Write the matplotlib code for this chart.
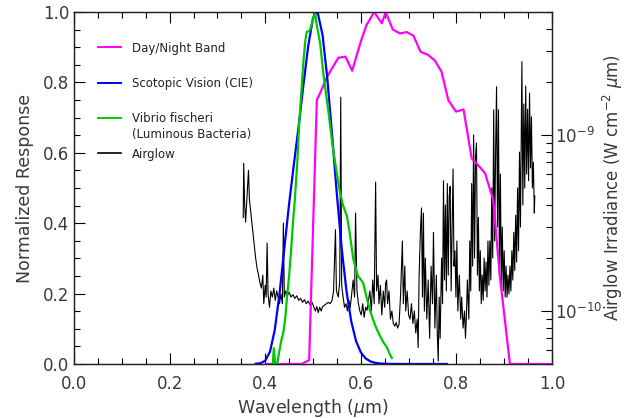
import matplotlib
matplotlib.use("Agg")
import matplotlib.pyplot as plt
from matplotlib.ticker import MultipleLocator, LogLocator, FormatStrFormatter, NullFormatter

# ---- Day/Night Band relative response ----
dnb_wl = [0.403, 0.476, 0.492, 0.508, 0.515, 0.529, 0.553, 0.568, 0.582, 0.600,
          0.612, 0.628, 0.644, 0.652, 0.667, 0.682, 0.696, 0.710, 0.725, 0.741,
          0.755, 0.769, 0.783, 0.799, 0.815, 0.832, 0.842, 0.860, 0.877, 0.891,
          0.912, 1.000]
dnb_resp = [0.0, 0.0, 0.011, 0.75, 0.77, 0.815, 0.87, 0.873, 0.833, 0.916,
            0.963, 1.0, 0.968, 1.0, 0.95, 0.939, 0.943, 0.933, 0.887, 0.878,
            0.862, 0.83, 0.75, 0.717, 0.723, 0.584, 0.57, 0.542, 0.466, 0.248,
            0.0, 0.0]

# ---- CIE scotopic luminosity ----
scot_wl = [0.38, 0.39, 0.40, 0.41, 0.42, 0.43, 0.44, 0.45, 0.46, 0.47,
           0.48, 0.49, 0.50, 0.507, 0.51, 0.52, 0.53, 0.54, 0.55, 0.56,
           0.57, 0.58, 0.59, 0.60, 0.61, 0.62, 0.63, 0.64, 0.65, 0.66,
           0.67, 0.68, 0.69, 0.70, 0.72, 0.74, 0.76, 0.78]
scot_resp = [0.000589, 0.002209, 0.00929, 0.03484, 0.0966, 0.1998, 0.3281, 0.455, 0.567, 0.676,
             0.793, 0.904, 0.982, 1.0, 0.997, 0.935, 0.811, 0.650, 0.481, 0.3288,
             0.2076, 0.1212, 0.0655, 0.03315, 0.01593, 0.00737, 0.003335, 0.001497, 0.000677, 0.000313,
             0.000148, 0.0000715, 0.0000353, 0.0000178, 0.0, 0.0, 0.0, 0.0]

# ---- Vibrio fischeri emission ----
vib_wl = [0.416, 0.418, 0.421, 0.425, 0.430, 0.434, 0.438, 0.442, 0.445, 0.450,
          0.454, 0.458, 0.462, 0.467, 0.471, 0.476, 0.480, 0.484, 0.487, 0.491,
          0.494, 0.498, 0.502, 0.504, 0.507, 0.511, 0.515, 0.522, 0.532, 0.541,
          0.550, 0.556, 0.563, 0.571, 0.577, 0.584, 0.594, 0.600, 0.605, 0.612,
          0.619, 0.626, 0.633, 0.640, 0.647, 0.654, 0.660, 0.665]
vib_resp = [0.0, 0.045, 0.0, 0.0, 0.04, 0.068, 0.09, 0.13, 0.18, 0.25,
            0.32, 0.40, 0.466, 0.57, 0.68, 0.78, 0.86, 0.92, 0.944, 0.945,
            0.95, 0.97, 0.99, 1.0, 0.97, 0.94, 0.91, 0.82, 0.72, 0.62,
            0.54, 0.49, 0.45, 0.42, 0.37, 0.30, 0.25, 0.24, 0.23, 0.19,
            0.153, 0.125, 0.10, 0.08, 0.062, 0.049, 0.03, 0.017]

# ---- Airglow irradiance (units of 1e-10 W cm^-2 um^-1) ----
air_wl = [0.354, 0.355, 0.357, 0.359, 0.362, 0.365, 0.367, 0.370, 0.373, 0.377,
          0.380, 0.383, 0.386, 0.389, 0.392, 0.395, 0.397, 0.400, 0.402, 0.404,
          0.406, 0.409, 0.412, 0.415, 0.418, 0.421, 0.424, 0.427, 0.430, 0.433,
          0.436, 0.438, 0.440, 0.443, 0.446, 0.450, 0.454, 0.458, 0.462, 0.466,
          0.470, 0.474, 0.478, 0.482, 0.486, 0.490, 0.494, 0.498, 0.502, 0.505,
          0.508, 0.511, 0.514, 0.517, 0.520, 0.524, 0.528, 0.532, 0.536, 0.540,
          0.543, 0.547, 0.549, 0.553, 0.556, 0.558, 0.560, 0.563, 0.566, 0.569,
          0.572, 0.575, 0.578, 0.581, 0.584, 0.587, 0.589, 0.592, 0.595, 0.598,
          0.601, 0.604, 0.607, 0.610, 0.613, 0.616, 0.619, 0.622, 0.625, 0.628,
          0.631, 0.633, 0.636, 0.638, 0.641, 0.644, 0.647, 0.650, 0.652, 0.654,
          0.656, 0.659, 0.662, 0.665, 0.668, 0.671, 0.674, 0.677, 0.680, 0.683,
          0.687, 0.689, 0.692, 0.694, 0.697, 0.700, 0.703, 0.706, 0.709, 0.712,
          0.715, 0.718, 0.720, 0.722, 0.725, 0.727, 0.729, 0.731, 0.733, 0.735,
          0.738, 0.741, 0.744, 0.747, 0.750, 0.752, 0.755, 0.758, 0.760, 0.762,
          0.764, 0.766, 0.769, 0.771, 0.773, 0.775, 0.777, 0.779, 0.781, 0.783,
          0.785, 0.787, 0.789, 0.791, 0.793, 0.795, 0.797, 0.799, 0.801, 0.803,
          0.806, 0.809, 0.811, 0.814, 0.817, 0.819, 0.821, 0.823, 0.826, 0.828,
          0.830, 0.832, 0.834, 0.836, 0.838, 0.840, 0.842, 0.844, 0.846, 0.848,
          0.850, 0.852, 0.854, 0.856, 0.858, 0.860, 0.862, 0.864, 0.866, 0.868,
          0.870, 0.872, 0.874, 0.876, 0.878, 0.880, 0.882, 0.884, 0.886, 0.888,
          0.890, 0.892, 0.894, 0.896, 0.898, 0.900, 0.902, 0.904, 0.906, 0.908,
          0.910, 0.912, 0.914, 0.916, 0.918, 0.920, 0.922, 0.924, 0.926, 0.928,
          0.930, 0.932, 0.934, 0.936, 0.937, 0.939, 0.941, 0.943, 0.945, 0.947,
          0.949, 0.951, 0.953, 0.955, 0.957, 0.959, 0.961, 0.963, 0.964]
air_irr = [3.4, 6.9, 4.0, 3.2, 4.5, 6.3, 4.3, 3.6, 3.0, 2.4,
           2.0, 1.75, 1.6, 1.45, 1.35, 1.6, 1.1, 1.4, 1.2, 2.43,
           1.25, 1.05, 1.3, 1.2, 1.35, 1.15, 1.3, 1.2, 1.1, 1.25,
           1.1, 3.16, 1.2, 1.3, 1.22, 1.28, 1.2, 1.24, 1.18, 1.22,
           1.15, 1.18, 1.12, 1.16, 1.1, 1.14, 1.08, 1.12, 1.05, 1.0,
           1.06, 0.98, 1.05, 1.0, 1.06, 1.08, 1.1, 1.12, 1.1, 1.15,
           1.3, 2.9, 1.3, 1.2, 1.5, 16.4, 1.4, 1.2, 1.05, 1.1,
           1.0, 1.15, 1.05, 1.25, 1.5, 1.2, 3.6, 1.3, 1.1, 1.0,
           0.95, 1.1, 0.92, 1.05, 1.01, 1.15, 1.3, 1.0, 1.5, 1.1,
           5.4, 1.3, 1.6, 1.1, 1.4, 0.95, 1.3, 1.05, 1.45, 1.5,
           1.1, 1.3, 0.9, 1.0, 0.85, 0.82, 0.86, 0.8, 0.84, 1.2,
           2.5, 1.1, 1.8, 1.0, 1.3, 0.95, 0.9, 1.1, 0.85, 1.0,
           0.75, 0.9, 0.62, 1.6, 3.0, 3.85, 1.2, 3.6, 1.0, 2.0,
           0.9, 1.5, 0.7, 1.8, 1.1, 2.8, 0.8, 1.6, 0.75, 0.52,
           1.2, 0.7, 2.0, 1.1, 5.5, 1.5, 4.0, 1.3, 5.3, 1.6,
           4.5, 5.1, 1.3, 3.0, 6.4, 1.8, 2.2, 1.2, 2.5, 1.0,
           1.6, 0.9, 1.2, 0.8, 1.0, 0.7, 0.95, 1.5, 0.9, 2.5,
           1.3, 5.3, 1.8, 10.0, 2.0, 7.5, 9.0, 1.6, 3.4, 1.3,
           2.2, 1.1, 1.6, 1.15, 2.0, 1.3, 1.9, 1.2, 2.5, 1.4,
           2.5, 1.5, 5.0, 2.0, 13.9, 2.5, 8.0, 18.8, 3.0, 13.9,
           1.6, 6.0, 1.4, 3.0, 1.3, 2.2, 1.2, 1.8, 1.2, 1.6,
           1.25, 1.8, 1.3, 2.2, 1.5, 2.8, 1.7, 3.5, 1.9, 5.0,
           2.2, 8.0, 3.0, 12.0, 26.1, 4.0, 15.0, 5.0, 19.0, 6.0,
           14.0, 5.5, 17.3, 6.5, 12.7, 5.0, 7.0, 3.6, 4.5]

legend_items = [("Day/Night Band", "#ff00ff"),
                ("Scotopic Vision (CIE)", "#0000ff"),
                ("Vibrio fischeri\n(Luminous Bacteria)", "#00c800"),
                ("Airglow", "black")]

txt = "#3a3a3a"
plt.rcParams['font.family'] = ['DejaVu Sans']

fig = plt.figure(figsize=(6.25, 4.18), dpi=100)
ax = fig.add_axes([0.1184, 0.1292, 0.7648, 0.8421])
ax2 = ax.twinx()

# airglow on the log axis, drawn underneath
ax2.plot(air_wl, [v * 1e-10 for v in air_irr], color="black", lw=0.8)
ax2.set_yscale("log")
ax2.set_ylim(5e-11, 5e-9)
ax2.yaxis.set_major_locator(LogLocator(base=10))
ax2.yaxis.set_minor_locator(LogLocator(base=10, subs=range(2, 10)))
ax2.yaxis.set_minor_formatter(NullFormatter())
ax2.tick_params(axis="x", which="both", bottom=False, labelbottom=False)
ax2.tick_params(axis="y", which="major", direction="in", length=8, width=0.8,
                labelsize=12, labelcolor=txt, pad=2)
ax2.tick_params(axis="y", which="minor", direction="in", length=4, width=0.8)
ax2.set_ylabel(r"Airglow Irradiance (W cm$^{-2}$ $\mu$m)", fontsize=12,
               color=txt, labelpad=-1)

ax.set_zorder(ax2.get_zorder() + 1)
ax.patch.set_visible(False)

ax.plot(dnb_wl, dnb_resp, color="#ff00ff", lw=1.6)
ax.plot(scot_wl, scot_resp, color="#0000ff", lw=1.6)
ax.plot(vib_wl, vib_resp, color="#00c800", lw=1.6)

ax.set_xlim(0, 1.0)
ax.set_ylim(0, 1.0)
ax.xaxis.set_major_locator(MultipleLocator(0.2))
ax.xaxis.set_minor_locator(MultipleLocator(0.05))
ax.yaxis.set_major_locator(MultipleLocator(0.2))
ax.yaxis.set_minor_locator(MultipleLocator(0.05))
ax.xaxis.set_major_formatter(FormatStrFormatter("%.1f"))
ax.yaxis.set_major_formatter(FormatStrFormatter("%.1f"))
ax.tick_params(axis="both", which="major", direction="in", length=8, width=0.8,
               labelsize=12, labelcolor=txt)
ax.tick_params(axis="x", which="both", top=True)
ax.tick_params(axis="x", which="major", pad=8)
ax.tick_params(axis="both", which="minor", direction="in", length=4, width=0.8)
ax.set_xlabel(r"Wavelength ($\mu$m)", fontsize=12.5, color=txt, labelpad=3)
ax.set_ylabel("Normalized Response", fontsize=12.5, color=txt, labelpad=6)

for sp in list(ax.spines.values()) + list(ax2.spines.values()):
    sp.set_linewidth(0.9)
    sp.set_color("#222222")

# hand-placed legend like the original
ys = [0.900, 0.799, 0.700, 0.599]
for (label, col), yy in zip(legend_items, ys):
    ax.plot([0.050, 0.098], [yy, yy], color=col, lw=1.4 if col != "black" else 1.2,
            transform=ax.transAxes)
    ax.text(0.121, yy + 0.016, label, transform=ax.transAxes, fontsize=8.5,
            color="#222222", va="top", linespacing=1.3)

fig.savefig("out.png", dpi=100)
